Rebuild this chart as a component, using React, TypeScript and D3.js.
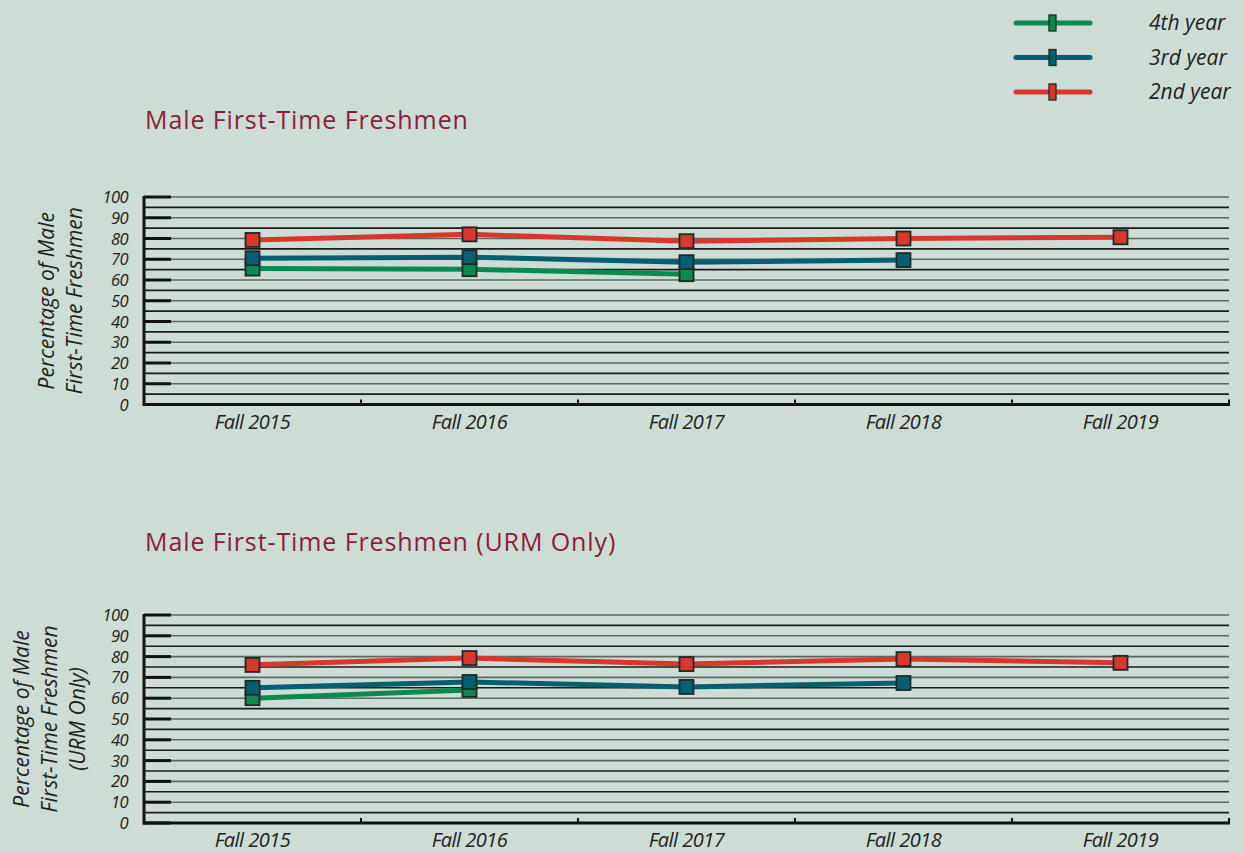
import React, { useEffect, useRef } from 'react'
import * as d3 from 'd3'

const years = ['Fall 2015', 'Fall 2016', 'Fall 2017', 'Fall 2018', 'Fall 2019']
const seriesNames = ['4th year', '3rd year', '2nd year']
const seriesColors = ['#0b8a50', '#045f70', '#d9372b']

// top chart: Male First-Time Freshmen
const allFourth = [65.5, 65.2, 62.8]
const allThird = [70.5, 71, 68.6, 69.6]
const allSecond = [79.3, 82, 78.7, 80, 80.6]

// bottom chart: URM only
const urmFourth = [60, 64]
const urmThird = [65, 67.8, 65.4, 67.3]
const urmSecond = [76, 79.3, 76.4, 78.8, 77]

const yTicks = [0, 10, 20, 30, 40, 50, 60, 70, 80, 90, 100]

const W = 1244
const H = 853

const App = () => {
  const svgRef = useRef<SVGSVGElement>(null)

  useEffect(() => {
    const svg = d3.select(svgRef.current)
    svg.selectAll('*').remove()

    svg.append('rect').attr('width', W).attr('height', H).attr('fill', '#cddcd5')

    const x = d3.scaleBand().domain(years).range([144, 1229])

    const drawChart = (title: string, titleY: number, top: number, bottom: number,
      yLabel: string[], labelX: number, data: number[][]) => {
      const y = d3.scaleLinear([0, 100], [bottom, top])
      const g = svg.append('g')

      g.append('text')
        .attr('x', 145).attr('y', titleY)
        .attr('fill', '#8c1c3c')
        .attr('font-family', 'Open Sans, sans-serif')
        .attr('font-size', 25)
        .attr('letter-spacing', 0.9)
        .text(title)

      // grid lines every 5
      g.selectAll('line.grid')
        .data(d3.range(5, 101, 5))
        .join('line')
        .attr('x1', 144).attr('x2', 1229)
        .attr('y1', d => y(d)).attr('y2', d => y(d))
        .attr('stroke', (d, i) => (i % 2 === 0 ? '#1a1a1a' : '#5f6663'))
        .attr('stroke-width', 1.6)

      // y axis
      g.append('line')
        .attr('x1', 144).attr('x2', 144)
        .attr('y1', y(100) - 1).attr('y2', y(0) + 1.5)
        .attr('stroke', '#111').attr('stroke-width', 3)
      g.selectAll('line.major')
        .data(yTicks)
        .join('line')
        .attr('x1', 144).attr('x2', 171)
        .attr('y1', d => y(d)).attr('y2', d => y(d))
        .attr('stroke', '#111').attr('stroke-width', 3)
      g.selectAll('text.ytick')
        .data(yTicks)
        .join('text')
        .attr('x', 128).attr('y', d => y(d) + 6)
        .attr('text-anchor', 'end')
        .attr('font-family', 'Open Sans, sans-serif')
        .attr('font-style', 'italic')
        .attr('font-size', 16.5)
        .attr('letter-spacing', -0.6)
        .attr('fill', '#222')
        .text(d => d)

      // x axis
      g.append('line')
        .attr('x1', 143).attr('x2', 1230)
        .attr('y1', y(0)).attr('y2', y(0))
        .attr('stroke', '#111').attr('stroke-width', 3)
      g.selectAll('line.xtick')
        .data(years)
        .join('line')
        .attr('x1', d => (x(d) as number) + x.bandwidth())
        .attr('x2', d => (x(d) as number) + x.bandwidth())
        .attr('y1', y(0)).attr('y2', y(0) - 5)
        .attr('stroke', '#111').attr('stroke-width', 2)
      g.selectAll('text.xtick')
        .data(years)
        .join('text')
        .attr('x', d => (x(d) as number) + x.bandwidth() / 2)
        .attr('y', y(0) + 24)
        .attr('text-anchor', 'middle')
        .attr('font-family', 'Open Sans, sans-serif')
        .attr('font-style', 'italic')
        .attr('font-size', 20)
        .attr('letter-spacing', -0.5)
        .attr('fill', '#222')
        .text(d => d)

      // y label
      const lbl = g.append('text')
        .attr('transform', `translate(${labelX},${(top + bottom) / 2}) rotate(-90)`)
        .attr('text-anchor', 'middle')
        .attr('font-family', 'Open Sans, sans-serif')
        .attr('font-style', 'italic')
        .attr('font-size', 21)
        .attr('letter-spacing', 0)
        .attr('fill', '#222')
      yLabel.forEach((t, i) => {
        lbl.append('tspan')
          .attr('x', 0)
          .attr('y', (i - (yLabel.length - 1) / 2) * 28 + 7)
          .text(t)
      })

      const line = d3.line<number>()
        .x((d, i) => (x(years[i]) as number) + x.bandwidth() / 2)
        .y(d => y(d))

      data.forEach((vals, si) => {
        g.append('path')
          .attr('d', line(vals))
          .attr('fill', 'none')
          .attr('stroke', seriesColors[si])
          .attr('stroke-width', 5)
      })
      data.forEach((vals, si) => {
        g.selectAll(`rect.s${si}`)
          .data(vals)
          .join('rect')
          .attr('x', (d, i) => (x(years[i]) as number) + x.bandwidth() / 2 - 7)
          .attr('y', d => y(d) - 7)
          .attr('width', 14).attr('height', 14)
          .attr('fill', seriesColors[si])
          .attr('stroke', '#1c2a28')
          .attr('stroke-width', 1.8)
      })
    }

    drawChart('Male First-Time Freshmen', 129, 197, 404.5,
      ['Percentage of Male', 'First-Time Freshmen'], 61, [allFourth, allThird, allSecond])
    drawChart('Male First-Time Freshmen (URM Only)', 551, 615, 823,
      ['Percentage of Male', 'First-Time Freshmen', '(URM Only)'], 50, [urmFourth, urmThird, urmSecond])

    // legend
    const legY = d3.scalePoint().domain(seriesNames).range([23, 92])
    const leg = svg.append('g')
    seriesNames.forEach((name, i) => {
      const ly = legY(name) as number
      leg.append('line')
        .attr('x1', 1016).attr('x2', 1090)
        .attr('y1', ly).attr('y2', ly)
        .attr('stroke', seriesColors[i])
        .attr('stroke-width', 5)
        .attr('stroke-linecap', 'round')
      leg.append('rect')
        .attr('x', 1049).attr('y', ly - 8)
        .attr('width', 7).attr('height', 16)
        .attr('fill', seriesColors[i])
        .attr('stroke', '#1c2a28').attr('stroke-width', 1.3)
      leg.append('text')
        .attr('x', 1149).attr('y', ly + 7)
        .attr('font-family', 'Open Sans, sans-serif')
        .attr('font-style', 'italic')
        .attr('font-size', 21)
        .attr('letter-spacing', 0)
        .attr('fill', '#222')
        .text(name)
    })
  }, [])

  return (
    <svg ref={svgRef} width={W} height={H}
      style={{ position: 'absolute', left: 0, top: 0, display: 'block' }} />
  )
}

export default App
